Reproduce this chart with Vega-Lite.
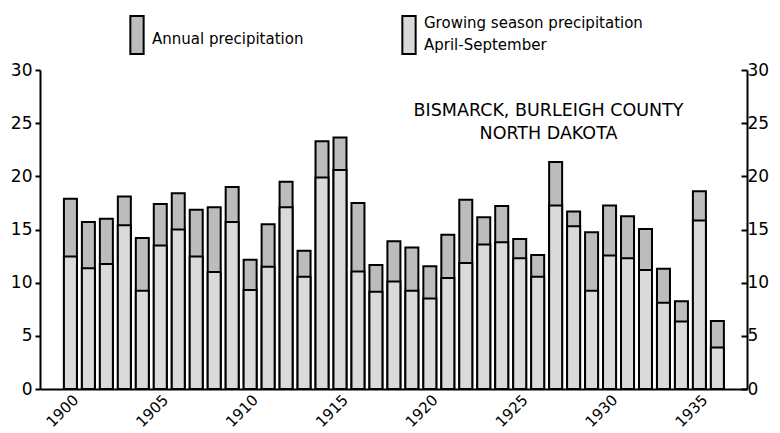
{
  "$schema": "https://vega.github.io/schema/vega-lite/v6.json",
  "width": 707,
  "height": 319,
  "autosize": "none",
  "padding": {"left": 40, "top": 70, "right": 33, "bottom": 44},
  "background": "white",
  "config": {
    "view": {"stroke": null},
    "font": "DejaVu Sans",
    "axis": {"grid": false, "domainColor": "black", "domainWidth": 2, "tickColor": "black", "tickWidth": 2, "labelColor": "black", "labelFont": "DejaVu Sans", "title": null}
  },
  "title": {
    "text": ["BISMARCK, BURLEIGH COUNTY", "NORTH DAKOTA"],
    "anchor": "middle",
    "dx": 155,
    "dy": 127,
    "offset": 0,
    "baseline": "top",
    "fontSize": 17.5,
    "fontWeight": "normal",
    "font": "DejaVu Sans",
    "lineHeight": 23,
    "color": "black"
  },
  "data": {
    "values": [
      {"year": 1900, "annual": 17.9, "growing": 12.45},
      {"year": 1901, "annual": 15.7, "growing": 11.35},
      {"year": 1902, "annual": 16.0, "growing": 11.75},
      {"year": 1903, "annual": 18.1, "growing": 15.4},
      {"year": 1904, "annual": 14.2, "growing": 9.25},
      {"year": 1905, "annual": 17.4, "growing": 13.5},
      {"year": 1906, "annual": 18.4, "growing": 15.0},
      {"year": 1907, "annual": 16.85, "growing": 12.45},
      {"year": 1908, "annual": 17.1, "growing": 11.0},
      {"year": 1909, "annual": 19.0, "growing": 15.7},
      {"year": 1910, "annual": 12.15, "growing": 9.3},
      {"year": 1911, "annual": 15.5, "growing": 11.5},
      {"year": 1912, "annual": 19.5, "growing": 17.1},
      {"year": 1913, "annual": 13.0, "growing": 10.55},
      {"year": 1914, "annual": 23.3, "growing": 19.9},
      {"year": 1915, "annual": 23.65, "growing": 20.6},
      {"year": 1916, "annual": 17.5, "growing": 11.05},
      {"year": 1917, "annual": 11.65, "growing": 9.15},
      {"year": 1918, "annual": 13.9, "growing": 10.1},
      {"year": 1919, "annual": 13.3, "growing": 9.25},
      {"year": 1920, "annual": 11.55, "growing": 8.5},
      {"year": 1921, "annual": 14.5, "growing": 10.45},
      {"year": 1922, "annual": 17.8, "growing": 11.85},
      {"year": 1923, "annual": 16.15, "growing": 13.6},
      {"year": 1924, "annual": 17.2, "growing": 13.8},
      {"year": 1925, "annual": 14.1, "growing": 12.3},
      {"year": 1926, "annual": 12.6, "growing": 10.55},
      {"year": 1927, "annual": 21.35, "growing": 17.25},
      {"year": 1928, "annual": 16.7, "growing": 15.3},
      {"year": 1929, "annual": 14.75, "growing": 9.25},
      {"year": 1930, "annual": 17.25, "growing": 12.55},
      {"year": 1931, "annual": 16.25, "growing": 12.3},
      {"year": 1932, "annual": 15.05, "growing": 11.2},
      {"year": 1933, "annual": 11.3, "growing": 8.1},
      {"year": 1934, "annual": 8.25, "growing": 6.35},
      {"year": 1935, "annual": 18.6, "growing": 15.85},
      {"year": 1936, "annual": 6.4, "growing": 3.9}
    ]
  },
  "layer": [
    {
      "mark": {"type": "bar", "width": 13, "stroke": "black", "strokeWidth": 2, "cornerRadius": 0},
      "encoding": {
        "x": {
          "field": "year", "type": "quantitative",
          "scale": {"domain": [1898.585, 1937.37], "nice": false, "zero": false},
          "axis": {"values": [1900, 1905, 1910, 1915, 1920, 1925, 1930, 1935], "format": "d", "labelAngle": -45, "ticks": false, "labelFontSize": 15, "labelPadding": 3, "labelDx": -20, "labelDy": -6}
        },
        "y": {
          "field": "annual", "type": "quantitative",
          "scale": {"domain": [0, 30], "nice": false},
          "axis": {"orient": "left", "values": [0, 5, 10, 15, 20, 25, 30], "labelFontSize": 17, "tickSize": 5, "labelPadding": 3}
        },
        "color": {
          "datum": "Annual precipitation", "type": "nominal",
          "scale": {"domain": ["Annual precipitation", "Growing season precipitation"], "range": ["#bcbcbc", "#dadada"]},
          "legend": {
            "orient": "none", "legendX": 77, "legendY": -55, "direction": "horizontal",
            "title": null, "symbolType": "M-0.35,-1H0.35V1H-0.35Z", "symbolSize": 1444,
            "symbolStrokeColor": "black", "symbolStrokeWidth": 2, "symbolOpacity": 1,
            "labelFontSize": 15, "labelFont": "DejaVu Sans", "labelColor": "black", "labelOffset": -5, "labelLimit": 0,
            "columnPadding": 85,
            "labelExpr": "datum.label == 'Growing season precipitation' ? ['Growing season precipitation', '\u00a0\u00a0April-September'] : datum.label",
            "encode": {"labels": {"update": {"lineHeight": {"value": 22}, "dy": {"signal": "datum.label == 'Growing season precipitation' ? -12 : 4"}}}}
          }
        }
      }
    },
    {
      "mark": {"type": "bar", "width": 13, "stroke": "black", "strokeWidth": 2, "cornerRadius": 0},
      "encoding": {
        "x": {"field": "year", "type": "quantitative"},
        "y": {
          "field": "growing", "type": "quantitative",
          "scale": {"domain": [0, 30], "nice": false},
          "axis": {"orient": "right", "values": [0, 5, 10, 15, 20, 25, 30], "labelFontSize": 17, "tickSize": -6, "labelPadding": 6}
        },
        "color": {"datum": "Growing season precipitation", "type": "nominal"}
      }
    }
  ],
  "resolve": {"scale": {"y": "independent"}, "axis": {"y": "independent"}}
}
